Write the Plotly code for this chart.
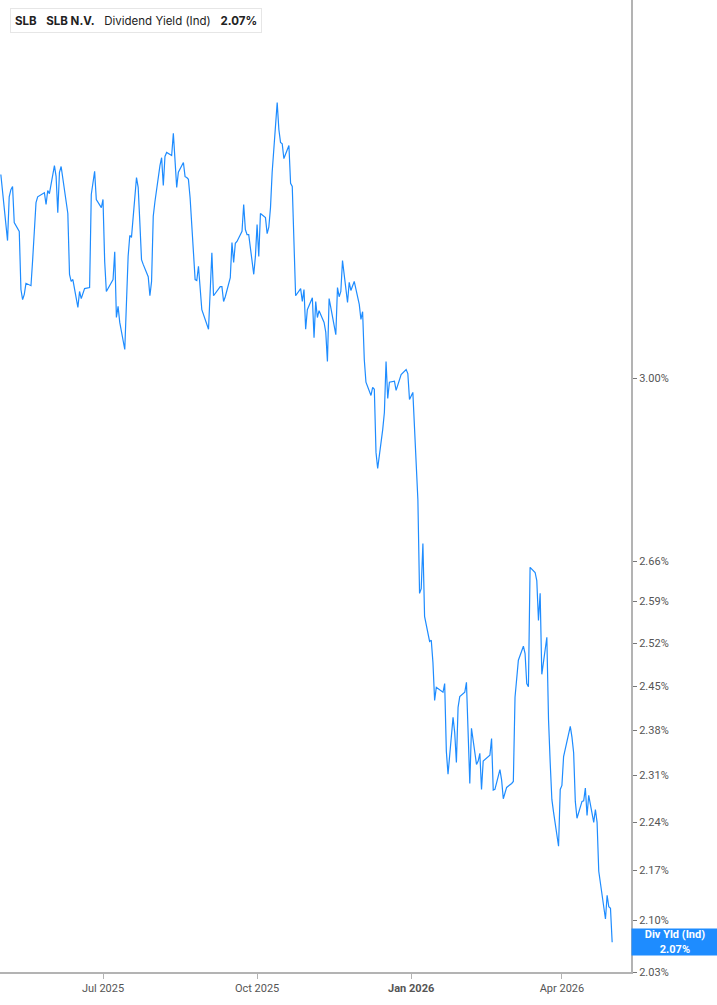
import numpy as np
import pandas as pd
import plotly.graph_objects as go

# ---- data ----
start_date = "2025-05-01"
market_holidays = ["2025-05-26", "2025-06-19", "2025-07-04", "2025-09-01", "2025-11-27",
                   "2025-12-25", "2026-01-01", "2026-01-19", "2026-02-16", "2026-04-03"]

yield_pct = [
    3.430, 3.389, 3.284, 3.380, 3.396, 3.403, 3.323, 3.304, 3.180, 3.159,
    3.170, 3.193, 3.188, 3.243, 3.308, 3.367, 3.380, 3.389, 3.363, 3.394,
    3.387, 3.450, 3.425, 3.345, 3.435, 3.448, 3.369, 3.343, 3.212, 3.197,
    3.201, 3.143, 3.176, 3.161, 3.182, 3.184, 3.385, 3.407, 3.437, 3.374,
    3.356, 3.374, 3.239, 3.176, 3.201, 3.260, 3.122, 3.145, 3.112, 3.057,
    3.153, 3.250, 3.295, 3.291, 3.423, 3.401, 3.323, 3.243, 3.233, 3.207,
    3.167, 3.197, 3.337, 3.369, 3.450, 3.468, 3.405, 3.471, 3.480, 3.473,
    3.524, 3.471, 3.401, 3.435, 3.457, 3.425, 3.423, 3.419, 3.378, 3.201,
    3.199, 3.229, 3.180, 3.138, 3.098, 3.170, 3.258, 3.167, 3.180, 3.186,
    3.186, 3.155, 3.165, 3.205, 3.280, 3.237, 3.278, 3.282, 3.304, 3.363,
    3.308, 3.297, 3.297, 3.212, 3.250, 3.319, 3.250, 3.343, 3.334, 3.299,
    3.313, 3.356, 3.435, 3.596, 3.533, 3.503, 3.500, 3.466, 3.496, 3.410,
    3.403, 3.293,
    3.167, 3.182, 3.155, 3.180, 3.098, 3.138, 3.163, 3.081, 3.155, 3.122,
    3.136, 3.112, 3.092, 3.033, 3.161, 3.143, 3.087, 3.184, 3.165, 3.176,
    3.241, 3.153, 3.195, 3.178, 3.197, 3.149, 3.118, 3.134, 3.037, 2.992,
    2.966, 2.982, 2.978, 2.857, 2.827, 2.900, 2.933, 3.033, 2.960, 2.992,
    2.994, 2.976, 2.988, 3.007, 3.017, 3.009, 2.958, 2.972,
    2.770, 2.604, 2.612, 2.691, 2.565, 2.523, 2.525, 2.488, 2.427, 2.448,
    2.440, 2.454, 2.347, 2.312, 2.400, 2.376, 2.330, 2.416, 2.433, 2.440,
    2.456, 2.386, 2.298, 2.383, 2.327, 2.332, 2.344, 2.289, 2.332, 2.341,
    2.367, 2.288, 2.289, 2.319, 2.303, 2.275, 2.284, 2.292, 2.298, 2.301,
    2.432, 2.466, 2.492, 2.515, 2.503, 2.454, 2.449, 2.649, 2.640, 2.626,
    2.558, 2.604, 2.469, 2.530, 2.397, 2.330, 2.274, 2.255, 2.205, 2.289,
    2.295, 2.339, 2.386, 2.369, 2.345, 2.271, 2.246, 2.271, 2.272, 2.291,
    2.250, 2.280, 2.240, 2.259, 2.240, 2.169, 2.153, 2.102, 2.135, 2.119,
    2.117, 2.070,
]

y_tick_vals = [2.03, 2.10, 2.17, 2.24, 2.31, 2.38, 2.45, 2.52, 2.59, 2.66, 3.00]
y_tick_text = ["2.03%", "2.10%", "2.17%", "2.24%", "2.31%", "2.38%", "2.45%",
               "2.52%", "2.59%", "2.66%", "3.00%"]
x_tick_vals = ["2025-07-01", "2025-10-01", "2026-01-01", "2026-04-01"]
x_tick_text = ["Jul 2025", "Oct 2025", "<b>Jan 2026</b>", "Apr 2026"]

ticker = "SLB"
company = "SLB N.V."
metric = "Dividend Yield (Ind)"
badge_label = "Div Yld (Ind)"

# ---- build ----
bday = pd.offsets.CustomBusinessDay(holidays=market_holidays)
dates = pd.date_range(start=start_date, periods=len(yield_pct), freq=bday)
last_val = yield_pct[-1]

BLUE = "#1e8cff"
AXIS = "#b3b3b3"
TXT = "#555555"

fig = go.Figure()
fig.add_trace(go.Scatter(x=dates, y=yield_pct, mode="lines",
                         line=dict(color=BLUE, width=1.2), hoverinfo="x+y",
                         showlegend=False))

W, H = 717, 1005
ml, mr, mt, mb = 0, 86, 0, 33
pw, ph = W - ml - mr, H - mt - mb

fig.update_layout(
    width=W, height=H,
    margin=dict(l=ml, r=mr, t=mt, b=mb),
    paper_bgcolor="white", plot_bgcolor="white",
    font=dict(family="Roboto, Arial, sans-serif", size=11, color=TXT),
    xaxis=dict(
        type="date",
        range=["2025-04-30 12:00", "2026-05-12 06:00"],
        showgrid=False, zeroline=False,
        showline=True, linecolor=AXIS, linewidth=2,
        ticks="outside", ticklen=5, tickcolor=AXIS, tickwidth=1,
        tickvals=x_tick_vals, ticktext=x_tick_text,
        tickfont=dict(family="Roboto, Arial, sans-serif", size=11, color=TXT),
    ),
    yaxis=dict(
        type="log", side="right",
        range=[np.log10(2.03), np.log10(3.847)],
        showgrid=False, zeroline=False,
        showline=True, linecolor=AXIS, linewidth=2,
        ticks="outside", ticklen=4, tickcolor="#777777", tickwidth=1,
        tickvals=y_tick_vals, ticktext=y_tick_text,
        tickfont=dict(family="Roboto, Arial, sans-serif", size=11, color=TXT),
    ),
)

# header box (top-left)
fig.add_annotation(
    xref="paper", yref="paper",
    x=10 / pw, y=1 - 8 / ph, xanchor="left", yanchor="top",
    text=(f"<b>{ticker}</b>&nbsp;&nbsp;&nbsp;<b>{company}</b>&nbsp;&nbsp;&nbsp;"
          f"{metric}&nbsp;&nbsp;&nbsp;<b>{last_val:.2f}%</b>"),
    showarrow=False, align="center",
    font=dict(family="Inter, Roboto, sans-serif", size=11.5, color="#222222"),
    bgcolor="white", bordercolor="#e6e6e6", borderwidth=1, borderpad=4,
    width=242, height=15,
)
fig.add_shape(type="rect", xref="paper", yref="paper",
              x0=10 / pw, x1=13.5 / pw, y0=1 - 33 / ph, y1=1 - 8 / ph,
              fillcolor=BLUE, line=dict(width=0), layer="above")

# last value badge
fig.add_annotation(
    xref="paper", yref="y",
    x=1, y=np.log10(last_val), xanchor="left", yanchor="middle",
    text=f"<b>{badge_label}<br>{last_val:.2f}%</b>",
    showarrow=False, align="center",
    font=dict(family="Roboto, Arial, sans-serif", size=11, color="white"),
    bgcolor=BLUE, borderpad=1, width=84, height=24,
)

fig.write_html("out.html", config={"displayModeBar": False},
               post_script="document.body.style.margin='0';document.body.style.overflow='hidden';")
